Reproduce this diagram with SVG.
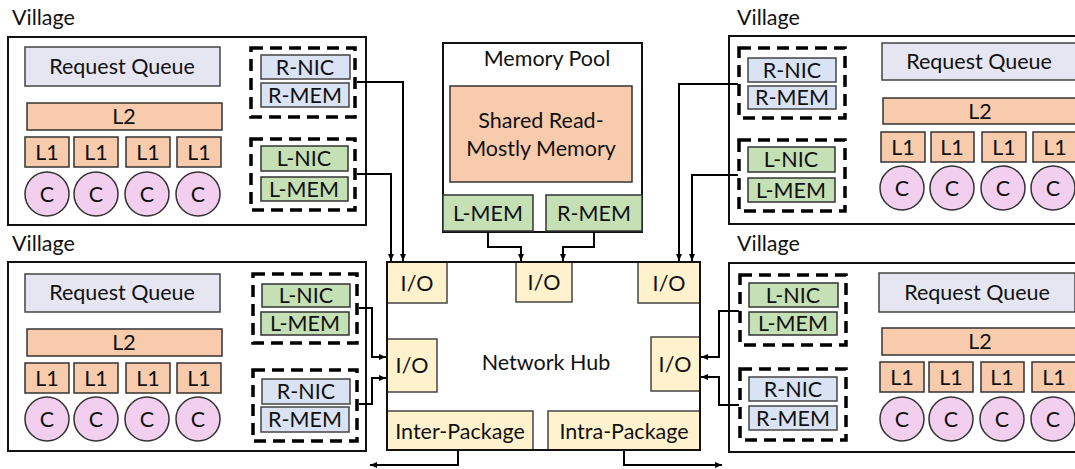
<svg xmlns="http://www.w3.org/2000/svg" width="1075" height="469" viewBox="0 0 1075 469">
<defs>
<marker id="ah" markerUnits="userSpaceOnUse" markerWidth="8" markerHeight="8" refX="7" refY="4" orient="auto">
<path d="M0,1 L7,4 L0,7 Z" fill="#000"/>
</marker>
<style>
text{font-family:Lato,"Liberation Sans",sans-serif;font-size:21.5px;fill:#111;text-anchor:middle}
.lbl{text-anchor:start}
.vbox{fill:#fff;stroke:#111;stroke-width:2}
.rq{fill:#E6E6F2;stroke:#444;stroke-width:1.5}
.cache{fill:#F8CBAD;stroke:#333;stroke-width:1.5}
.core{fill:#F2CFEF;stroke:#333;stroke-width:1.5}
.rb{fill:#DAE3F3;stroke:#444;stroke-width:1.5}
.gb{fill:#C5E0B4;stroke:#333;stroke-width:1.5}
.dash{fill:none;stroke:#000;stroke-width:3.5;stroke-dasharray:12 7}
.io{fill:#FFF2CC;stroke:#444;stroke-width:1.5}
.conn{fill:none;stroke:#000;stroke-width:2}
</style>
</defs>

<!-- Top-left village -->
<g id="village-tl">
<text class="lbl" x="12" y="25">Village</text>
<rect class="vbox" x="8" y="37" width="358" height="188"/>
<rect class="rq" x="25" y="47" width="195" height="39"/>
<text x="122" y="74">Request Queue</text>
<rect class="cache" x="27" y="103" width="195" height="27"/>
<text x="124" y="124">L2</text>
<rect class="cache" x="25" y="137" width="44" height="30"/><text x="47" y="160">L1</text>
<rect class="cache" x="74" y="137" width="44" height="30"/><text x="96" y="160">L1</text>
<rect class="cache" x="126" y="137" width="44" height="30"/><text x="148" y="160">L1</text>
<rect class="cache" x="177" y="137" width="44" height="30"/><text x="199" y="160">L1</text>
<circle class="core" cx="47" cy="194" r="22"/><text x="47" y="202">C</text>
<circle class="core" cx="96" cy="194" r="22"/><text x="96" y="202">C</text>
<circle class="core" cx="147" cy="194" r="22"/><text x="147" y="202">C</text>
<circle class="core" cx="198" cy="194" r="22"/><text x="198" y="202">C</text>
<rect class="dash" x="251" y="48" width="104" height="69"/>
<rect class="rb" x="261" y="55" width="89" height="24"/><text x="305" y="75">R-NIC</text>
<rect class="rb" x="261" y="83" width="88" height="24"/><text x="305" y="103">R-MEM</text>
<rect class="dash" x="251" y="139" width="104" height="71"/>
<rect class="gb" x="261" y="146" width="87" height="25"/><text x="304" y="166">L-NIC</text>
<rect class="gb" x="261" y="177" width="87" height="24"/><text x="304" y="197">L-MEM</text>
</g>

<!-- Bottom-left village -->
<g id="village-bl">
<text class="lbl" x="12" y="251">Village</text>
<rect class="vbox" x="8" y="262" width="358" height="189"/>
<rect class="rq" x="25" y="274" width="195" height="38"/>
<text x="122" y="300">Request Queue</text>
<rect class="cache" x="27" y="329" width="195" height="27"/>
<text x="124" y="350">L2</text>
<rect class="cache" x="25" y="363" width="44" height="30"/><text x="47" y="386">L1</text>
<rect class="cache" x="74" y="363" width="44" height="30"/><text x="96" y="386">L1</text>
<rect class="cache" x="126" y="363" width="44" height="30"/><text x="148" y="386">L1</text>
<rect class="cache" x="177" y="363" width="44" height="30"/><text x="199" y="386">L1</text>
<circle class="core" cx="47" cy="419" r="22"/><text x="47" y="427">C</text>
<circle class="core" cx="96" cy="419" r="22"/><text x="96" y="427">C</text>
<circle class="core" cx="147" cy="419" r="22"/><text x="147" y="427">C</text>
<circle class="core" cx="198" cy="419" r="22"/><text x="198" y="427">C</text>
<rect class="dash" x="253" y="274" width="104" height="69"/>
<rect class="gb" x="262" y="284" width="88" height="23"/><text x="306" y="303">L-NIC</text>
<rect class="gb" x="261" y="312" width="88" height="23"/><text x="305" y="331">L-MEM</text>
<rect class="dash" x="253" y="370" width="104" height="71"/>
<rect class="rb" x="262" y="379" width="88" height="25"/><text x="306" y="399">R-NIC</text>
<rect class="rb" x="261" y="407" width="88" height="25"/><text x="305" y="427">R-MEM</text>
</g>

<!-- Top-right village -->
<g id="village-tr">
<text class="lbl" x="737" y="25">Village</text>
<rect class="vbox" x="729" y="36" width="360" height="188"/>
<rect class="dash" x="739" y="48" width="106" height="70"/>
<rect class="rb" x="748" y="58" width="88" height="24"/><text x="792" y="78">R-NIC</text>
<rect class="rb" x="748" y="86" width="88" height="23"/><text x="792" y="105">R-MEM</text>
<rect class="dash" x="739" y="140" width="106" height="71"/>
<rect class="gb" x="748" y="147" width="87" height="25"/><text x="791" y="167">L-NIC</text>
<rect class="gb" x="748" y="178" width="87" height="24"/><text x="791" y="198">L-MEM</text>
<rect class="rq" x="882" y="43" width="198" height="37"/>
<text x="979" y="69">Request Queue</text>
<rect class="cache" x="883" y="98" width="197" height="26"/>
<text x="980" y="119">L2</text>
<rect class="cache" x="881" y="132" width="44" height="30"/><text x="903" y="155">L1</text>
<rect class="cache" x="931" y="132" width="43" height="30"/><text x="952" y="155">L1</text>
<rect class="cache" x="982" y="132" width="44" height="30"/><text x="1004" y="155">L1</text>
<rect class="cache" x="1033" y="132" width="44" height="30"/><text x="1055" y="155">L1</text>
<circle class="core" cx="902" cy="188" r="22"/><text x="902" y="196">C</text>
<circle class="core" cx="952" cy="188" r="22"/><text x="952" y="196">C</text>
<circle class="core" cx="1003" cy="188" r="22"/><text x="1003" y="196">C</text>
<circle class="core" cx="1053" cy="188" r="22"/><text x="1053" y="196">C</text>
</g>

<!-- Bottom-right village -->
<g id="village-br">
<text class="lbl" x="737" y="251">Village</text>
<rect class="vbox" x="729" y="263" width="360" height="189"/>
<rect class="dash" x="740" y="275" width="106" height="70"/>
<rect class="gb" x="749" y="283" width="89" height="24"/><text x="793" y="303">L-NIC</text>
<rect class="gb" x="749" y="312" width="88" height="23"/><text x="793" y="331">L-MEM</text>
<rect class="dash" x="740" y="369" width="106" height="71"/>
<rect class="rb" x="749" y="377" width="88" height="24"/><text x="793" y="397">R-NIC</text>
<rect class="rb" x="749" y="406" width="88" height="24"/><text x="793" y="426">R-MEM</text>
<rect class="rq" x="879" y="273" width="196" height="39"/>
<text x="977" y="300">Request Queue</text>
<rect class="cache" x="882" y="328" width="198" height="27"/>
<text x="980" y="349">L2</text>
<rect class="cache" x="880" y="362" width="44" height="30"/><text x="902" y="385">L1</text>
<rect class="cache" x="929" y="362" width="44" height="30"/><text x="951" y="385">L1</text>
<rect class="cache" x="981" y="362" width="43" height="30"/><text x="1002" y="385">L1</text>
<rect class="cache" x="1032" y="362" width="44" height="30"/><text x="1054" y="385">L1</text>
<circle class="core" cx="902" cy="419" r="22"/><text x="902" y="427">C</text>
<circle class="core" cx="951" cy="419" r="22"/><text x="951" y="427">C</text>
<circle class="core" cx="1002" cy="419" r="22"/><text x="1002" y="427">C</text>
<circle class="core" cx="1053" cy="419" r="22"/><text x="1053" y="427">C</text>
</g>

<!-- Memory pool -->
<g id="memory-pool">
<rect class="vbox" x="443" y="43" width="199" height="189"/>
<text x="547" y="66">Memory Pool</text>
<rect class="cache" x="450" y="86" width="182" height="96"/>
<text x="541" y="128">Shared Read-</text>
<text x="541" y="156">Mostly Memory</text>
<rect class="gb" x="443" y="195" width="90" height="36"/><text x="488" y="221">L-MEM</text>
<rect class="gb" x="546" y="195" width="96" height="36"/><text x="594" y="221">R-MEM</text>
</g>

<!-- Network hub -->
<g id="network-hub">
<rect class="vbox" x="387" y="262" width="313" height="188"/>
<text x="546" y="370">Network Hub</text>
<rect class="io" x="387" y="262" width="60" height="41"/><text x="417" y="291">I/O</text>
<rect class="io" x="516" y="262" width="56" height="40"/><text x="544" y="290">I/O</text>
<rect class="io" x="638" y="262" width="62" height="41"/><text x="669" y="291">I/O</text>
<rect class="io" x="387" y="339" width="50" height="53"/><text x="412" y="373">I/O</text>
<rect class="io" x="651" y="337" width="49" height="54"/><text x="675" y="372">I/O</text>
<rect class="io" x="387" y="411" width="146" height="39"/><text x="460" y="439">Inter-Package</text>
<rect class="io" x="548" y="411" width="152" height="39"/><text x="624" y="439">Intra-Package</text>
<rect x="387" y="262" width="313" height="188" fill="none" stroke="#111" stroke-width="2"/>
</g>

<!-- Connectors -->
<g id="connectors">
<polyline class="conn" points="357,82 403,82 403,261" marker-end="url(#ah)"/>
<polyline class="conn" points="357,174 391,174 391,261" marker-end="url(#ah)"/>
<polyline class="conn" points="488,232 488,247 521,247 521,261" marker-end="url(#ah)"/>
<polyline class="conn" points="594,232 594,247 563,247 563,261" marker-end="url(#ah)"/>
<polyline class="conn" points="738,84 679,84 679,261" marker-end="url(#ah)"/>
<polyline class="conn" points="738,175 692,175 692,261" marker-end="url(#ah)"/>
<polyline class="conn" points="359,308 372,308 372,357 386,357" marker-end="url(#ah)"/>
<polyline class="conn" points="359,404 372,404 372,378 386,378" marker-end="url(#ah)"/>
<polyline class="conn" points="739,311 719,311 719,357 701,357" marker-end="url(#ah)"/>
<polyline class="conn" points="739,405 719,405 719,377 701,377" marker-end="url(#ah)"/>
<polyline class="conn" points="458,451 458,465 370,465" marker-end="url(#ah)"/>
<polyline class="conn" points="624,451 624,465 722,465" marker-end="url(#ah)"/>
</g>
</svg>
